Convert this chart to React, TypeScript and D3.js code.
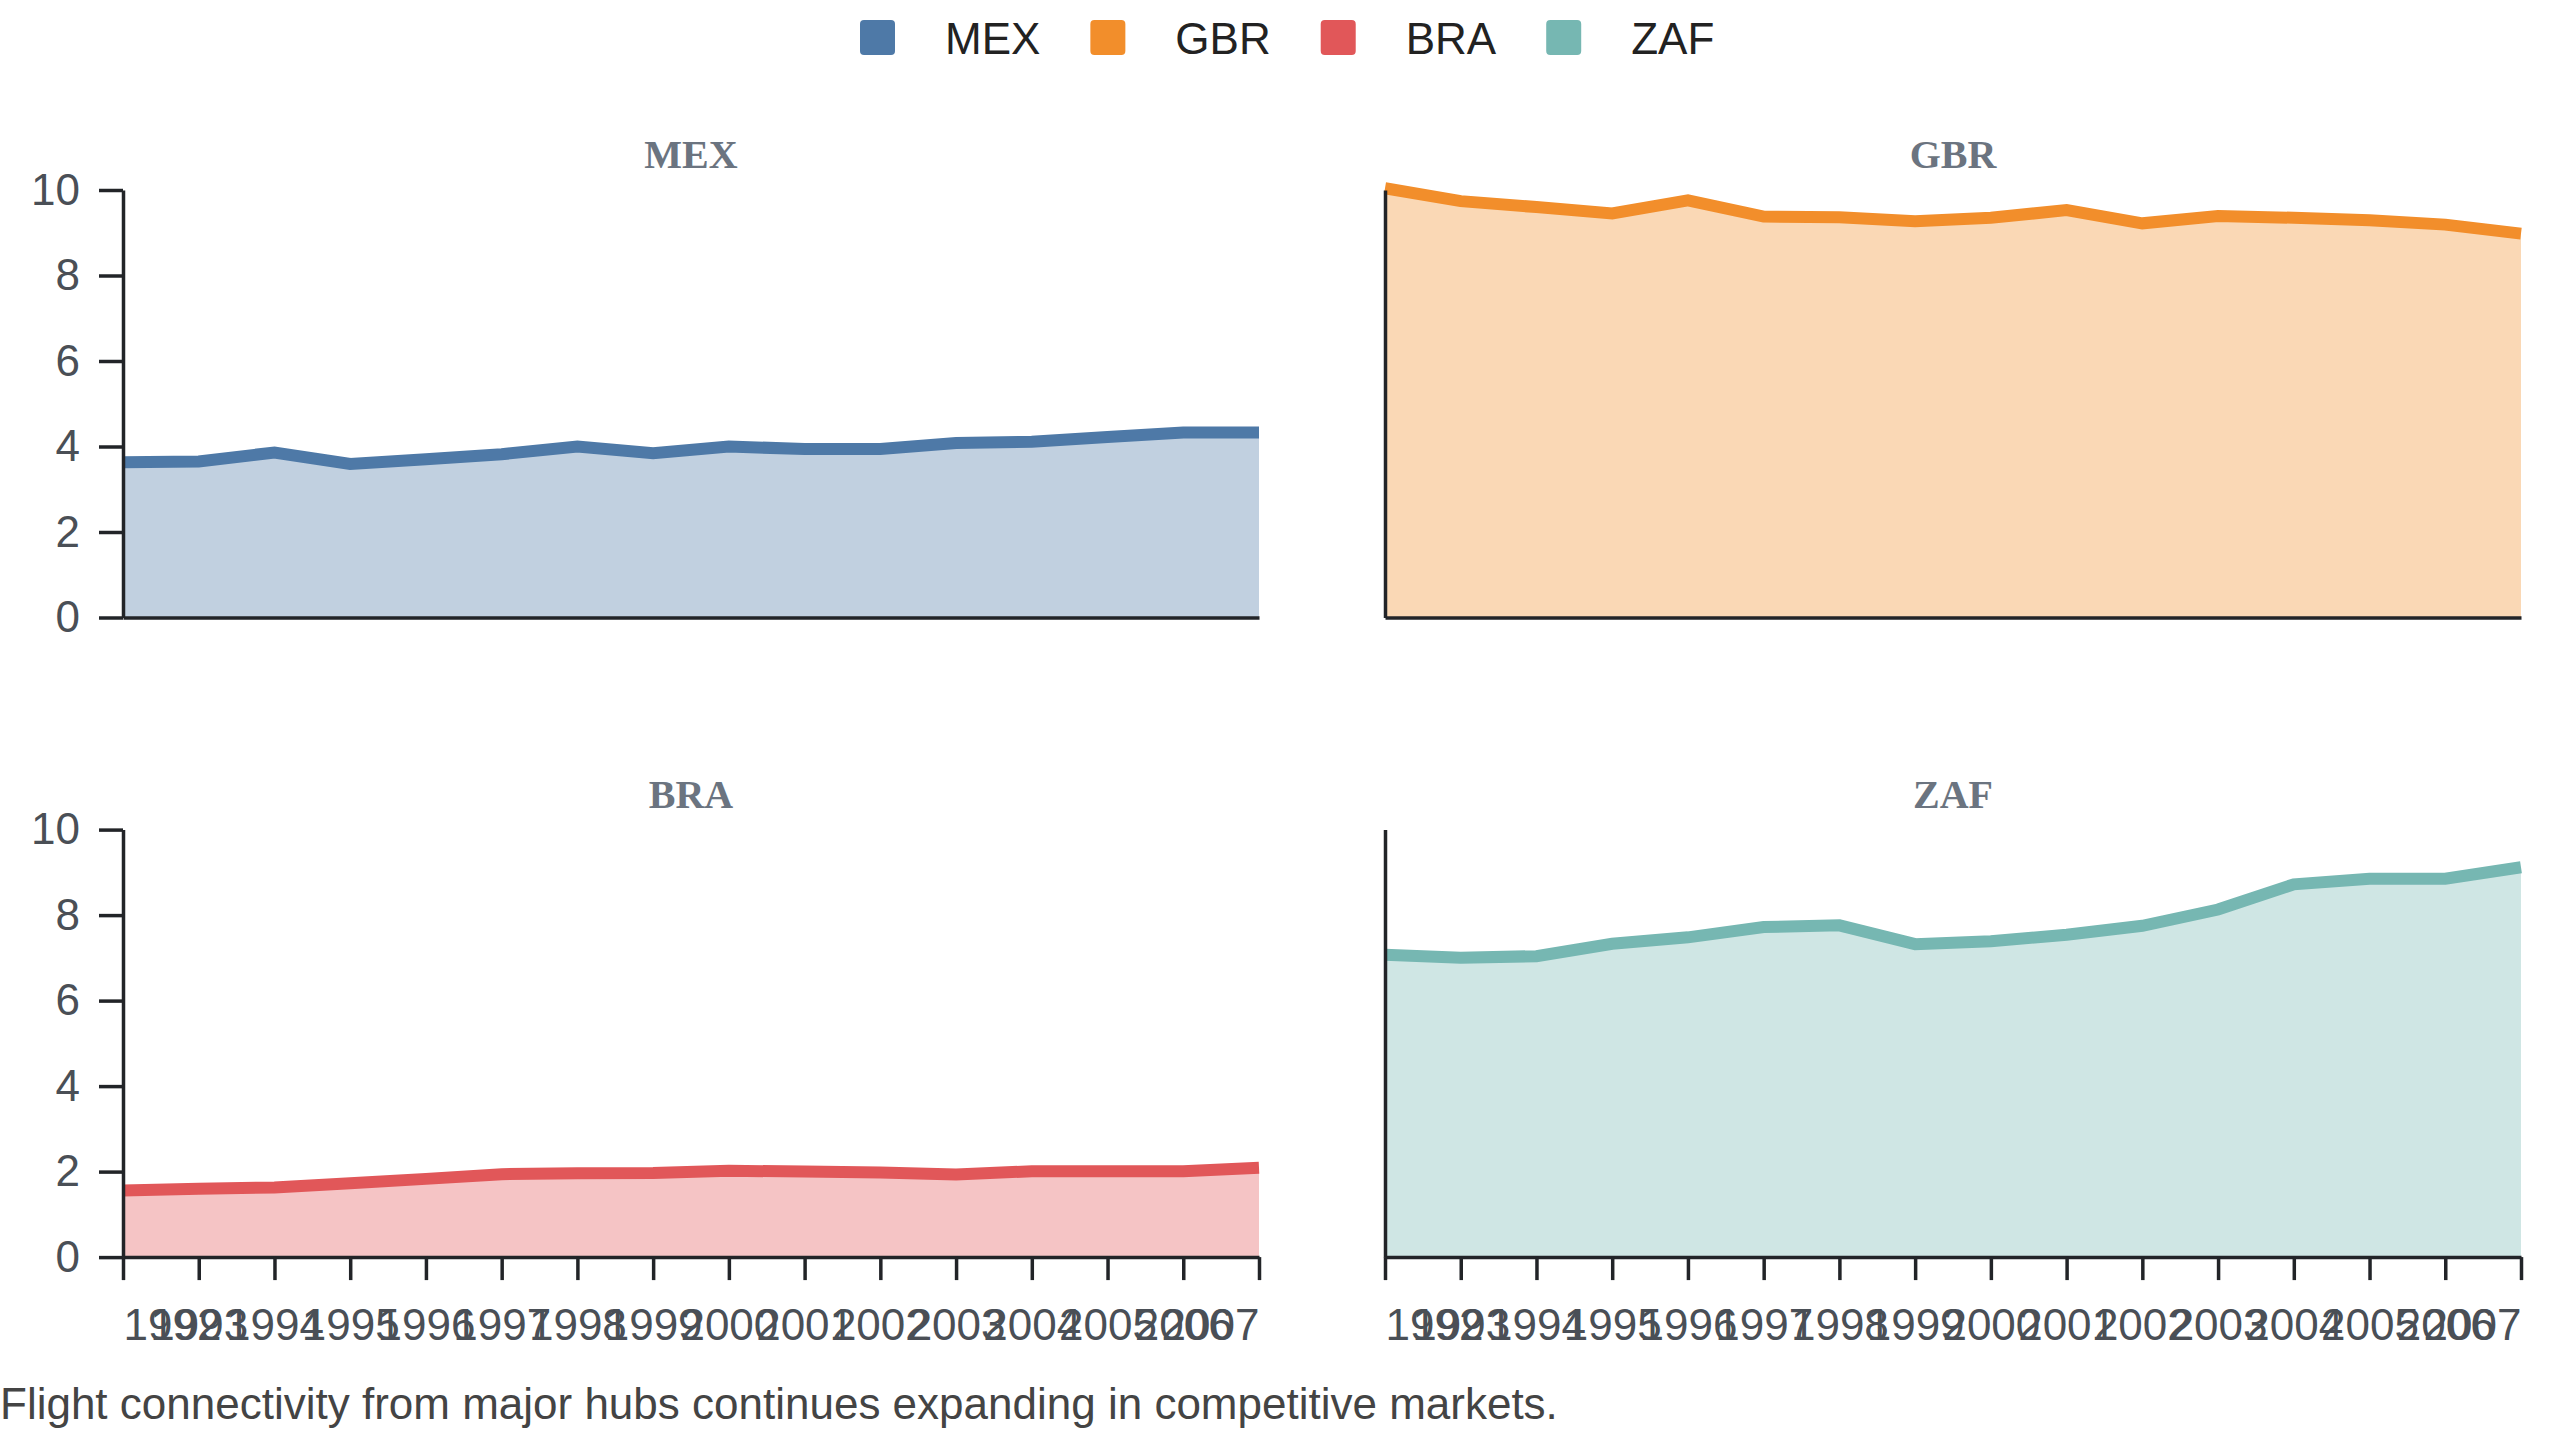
import React, { useEffect, useRef } from "react";
import * as d3 from "d3";

// values (connectivity index, 0-10 scale)
const years = [1992, 1993, 1994, 1995, 1996, 1997, 1998, 1999, 2000, 2001, 2002, 2003, 2004, 2005, 2006, 2007];
const countries = ["MEX", "GBR", "BRA", "ZAF"];
const colors = ["#4e79a7", "#f28e2b", "#e15759", "#76b7b2"];

const mexValues = [3.63, 3.65, 3.86, 3.59, 3.7, 3.82, 4.0, 3.84, 4.0, 3.94, 3.94, 4.08, 4.11, 4.22, 4.33, 4.33];
const gbrValues = [10.04, 9.74, 9.6, 9.45, 9.76, 9.38, 9.36, 9.27, 9.35, 9.53, 9.22, 9.39, 9.35, 9.29, 9.19, 8.98];
const braValues = [1.56, 1.6, 1.63, 1.73, 1.83, 1.94, 1.96, 1.97, 2.02, 2.0, 1.98, 1.93, 2.01, 2.01, 2.01, 2.09];
const zafValues = [7.07, 7.0, 7.04, 7.33, 7.48, 7.72, 7.76, 7.32, 7.39, 7.54, 7.75, 8.13, 8.72, 8.85, 8.85, 9.12];

const seriesValues = [mexValues, gbrValues, braValues, zafValues];
const yTicks = [0, 2, 4, 6, 8, 10];
const caption = "Flight connectivity from major hubs continues expanding in competitive markets.";

const W = 2560;
const H = 1440;
const plotW = 1136;
const plotH = 427.5;
const colX = [123, 1385];
const rowY = [190, 829.6];
const SANS = "'Liberation Sans', Arial, Helvetica, sans-serif";
const SERIF = "'Liberation Serif', 'Times New Roman', serif";
const AXIS_COLOR = "#222428";
const LABEL_COLOR = "#4a4f56";

type Point = { year: number; value: number };

const App = () => {
  const svgRef = useRef<SVGSVGElement>(null);

  useEffect(() => {
    if (!svgRef.current) return;
    const svg = d3.select(svgRef.current);
    svg.selectAll("*").remove();

    const x = d3.scaleLinear().domain([years[0], years[years.length - 1]]).range([0, plotW]);
    const y = d3.scaleLinear().domain([0, 10]).range([plotH, 0]);

    const area = d3
      .area<Point>()
      .x((d) => x(d.year))
      .y0(plotH)
      .y1((d) => y(d.value));
    const line = d3
      .line<Point>()
      .x((d) => x(d.year))
      .y((d) => y(d.value));

    countries.forEach((name, i) => {
      const col = i % 2;
      const row = Math.floor(i / 2);
      const data: Point[] = years.map((yr, j) => ({ year: yr, value: seriesValues[i][j] }));
      const g = svg.append("g").attr("transform", `translate(${colX[col]},${rowY[row]})`);

      g.append("path")
        .datum(data)
        .attr("d", area)
        .attr("fill", colors[i])
        .attr("fill-opacity", 0.35);

      g.append("path")
        .datum(data)
        .attr("d", line)
        .attr("fill", "none")
        .attr("stroke", colors[i])
        .attr("stroke-width", 12)
        .attr("stroke-linejoin", "miter");

      // x axis: ticks and labels only on the bottom row
      const xAxis =
        row === 1
          ? d3
              .axisBottom(x)
              .tickValues(years)
              .tickFormat(d3.format("d"))
              .tickSize(23)
              .tickPadding(29)
              .tickSizeOuter(0)
          : d3.axisBottom(x).tickValues([]).tickSizeOuter(0);
      const xg = g
        .append("g")
        .attr("transform", `translate(0,${plotH})`)
        .call(xAxis)
        .attr("color", AXIS_COLOR)
        .attr("font-size", 44)
        .attr("font-family", SANS);
      xg.selectAll("path,line").attr("stroke-width", 3.5);
      xg.selectAll("text")
        .attr("fill", LABEL_COLOR)
        .attr("text-anchor", (_d, k) => (k === 0 ? "start" : k === years.length - 1 ? "end" : "middle"));

      // y axis: labels only on the left column
      const yAxis =
        col === 0
          ? d3.axisLeft(y).tickValues(yTicks).tickSize(24).tickPadding(19).tickSizeOuter(0)
          : d3.axisLeft(y).tickValues([]).tickSizeOuter(0);
      const yg = g
        .append("g")
        .call(yAxis)
        .attr("color", AXIS_COLOR)
        .attr("font-size", 44)
        .attr("font-family", SANS);
      yg.selectAll("path,line").attr("stroke-width", 3.5);
      yg.selectAll("text").attr("fill", LABEL_COLOR);

      g.append("text")
        .attr("x", plotW / 2)
        .attr("y", -22)
        .attr("text-anchor", "middle")
        .attr("font-family", SERIF)
        .attr("font-weight", "bold")
        .attr("font-size", 40)
        .attr("fill", "#6b7480")
        .text(name);
    });

    // legend, laid out from measured text widths
    const legend = svg.append("g").attr("transform", "translate(860,0)");
    let cursor = 0;
    countries.forEach((name, i) => {
      const item = legend.append("g").attr("transform", `translate(${cursor},0)`);
      item
        .append("rect")
        .attr("x", 0)
        .attr("y", 20)
        .attr("width", 35)
        .attr("height", 35)
        .attr("rx", 4)
        .attr("fill", colors[i]);
      const t = item
        .append("text")
        .attr("x", 85)
        .attr("y", 53.5)
        .attr("font-family", SANS)
        .attr("font-size", 44)
        .attr("fill", "#222")
        .text(name);
      const w = (t.node() as SVGTextElement).getComputedTextLength();
      cursor += 85 + w + 50;
    });

    svg
      .append("text")
      .attr("x", 0)
      .attr("y", 1419)
      .attr("font-family", SANS)
      .attr("font-size", 44)
      .attr("fill", "#444")
      .text(caption);
  }, []);

  return (
    <svg
      ref={svgRef}
      width={W}
      height={H}
      style={{ position: "absolute", left: 0, top: 0, background: "#fff" }}
    />
  );
};

export default App;
